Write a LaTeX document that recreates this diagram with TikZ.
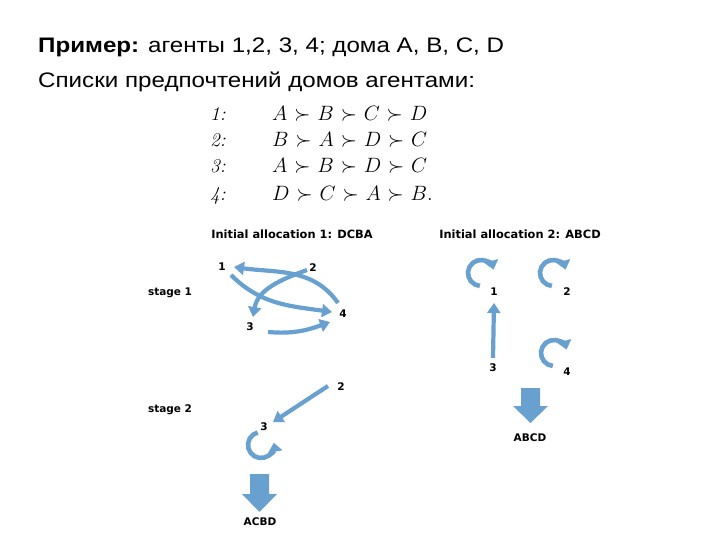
\documentclass[tikz,border=0pt]{standalone}
\usepackage{fontspec}
\setmainfont{Liberation Sans}
\newfontfamily\hdrfont{Liberation Sans}[FakeStretch=1.15]
\newfontfamily\dvs{DejaVu Sans}
\newfontfamily\lmr{Latin Modern Roman}
\usetikzlibrary{arrows.meta}
\definecolor{ab}{RGB}{104,160,207}
\newcommand{\prefrow}[1]{$\thickmuskip=6mu #1$}
\begin{document}
\begin{tikzpicture}[x=1pt,y=1pt,
  hdr/.style={anchor=base west,inner sep=0,font=\hdrfont\fontsize{21}{25}\selectfont},
  pref/.style={anchor=base west,inner sep=0,font=\lmr\fontsize{19.5}{23}\selectfont},
  lbl/.style={inner sep=0,font=\dvs\bfseries\fontsize{10.5}{12}\selectfont},
  ttl/.style={inner sep=0,font=\dvs\bfseries\fontsize{11.4}{13}\selectfont},
  conn/.style={draw=ab,line width=4.2pt,-{Triangle[length=10pt,width=13pt]}},
  loopa/.style={draw=ab,line width=4.6pt,-{Triangle[length=9pt,width=14pt]}},
  block/.style={fill=ab,draw=none}]
\useasboundingbox (0,0) rectangle (720,-540);
% header
\node[hdr] (h1) at (38,-53) {\textbf{Пример:} агенты 1,2, 3, 4; дома A, B, C, D};
\node[hdr] (h2) at (38,-88) {Списки предпочтений домов агентами:};
% preferences
\node[pref] (p1l) at (210,-121) {\itshape 1:};
\node[pref] (p2l) at (210,-147) {\itshape 2:};
\node[pref] (p3l) at (210,-173) {\itshape 3:};
\node[pref] (p4l) at (210,-201) {\itshape 4:};
\node[pref] (p1) at (272,-121) {\prefrow{A \succ B \succ C \succ D}};
\node[pref] (p2) at (272,-147) {\prefrow{B \succ A \succ D \succ C}};
\node[pref] (p3) at (272,-173) {\prefrow{A \succ B \succ D \succ C}};
\node[pref] (p4) at (272,-201) {\prefrow{D \succ C \succ A \succ B.}};
% left panel
\node[ttl] (t1) at (292,-234) {Initial allocation 1: DCBA};
\node[lbl] (s1) at (170,-293) {stage 1};
\node[lbl] (s2) at (170,-410) {stage 2};
\node[lbl] (a1) at (222,-267) {1};
\node[lbl] (a2) at (313,-268) {2};
\node[lbl] (a3) at (250,-327) {3};
\node[lbl] (a4) at (343,-314) {4};
\draw[conn] ([shift={(-5,11)}]a4.center) to[out=125,in=-8] ([shift={(12,0)}]a1.center);
\draw[conn] ([shift={(9,-8)}]a1.center) to[out=-45,in=172] ([shift={(-11,2)}]a4.center);
\draw[conn] ([shift={(-6,-2)}]a2.center) to[out=200,in=80] ([shift={(3,10)}]a3.center);
\draw[conn] ([shift={(18,-5)}]a3.center) to[out=-5,in=200] ([shift={(-13,-8)}]a4.center);
% stage 2
\node[lbl] (b2) at (341,-387) {2};
\node[lbl] (b3) at (264,-427) {3};
\draw[conn] ([shift={(-13,1)}]b2.center) -- ([shift={(9,5)}]b3.center);
\coordinate (c3) at (261,-445);
\draw[loopa] (c3) ++(105:13) arc[start angle=105,end angle=370,radius=13];
\draw[block] (250,-474) -- (269,-474) -- (269,-494) -- (277,-494) -- (259.5,-512) -- (242,-494) -- (250,-494) -- cycle;
\node[lbl] (r1) at (260,-522) {ACBD};
% right panel
\node[ttl] (t2) at (520,-234) {Initial allocation 2: ABCD};
\node[lbl] (c1) at (494,-292) {1};
\node[lbl] (c2) at (567,-292) {2};
\node[lbl] (cc3) at (493,-368) {3};
\node[lbl] (c4) at (567,-372) {4};
\coordinate (l1) at (481,-273);
\coordinate (l2) at (553,-273);
\coordinate (l4) at (554,-353);
\draw[loopa] (l1) ++(265:13) arc[start angle=265,end angle=15,radius=13];
\draw[loopa] (l2) ++(265:13) arc[start angle=265,end angle=15,radius=13];
\draw[loopa] (l4) ++(265:13) arc[start angle=265,end angle=15,radius=13];
\draw[conn] ([yshift=6]cc3.north) -- ([yshift=-7]c1.south);
\draw[block] (521,-388) -- (540,-388) -- (540,-406) -- (548,-406) -- (530.5,-423) -- (513,-406) -- (521,-406) -- cycle;
\node[lbl] (r2) at (530,-438) {ABCD};
\end{tikzpicture}
\end{document}
